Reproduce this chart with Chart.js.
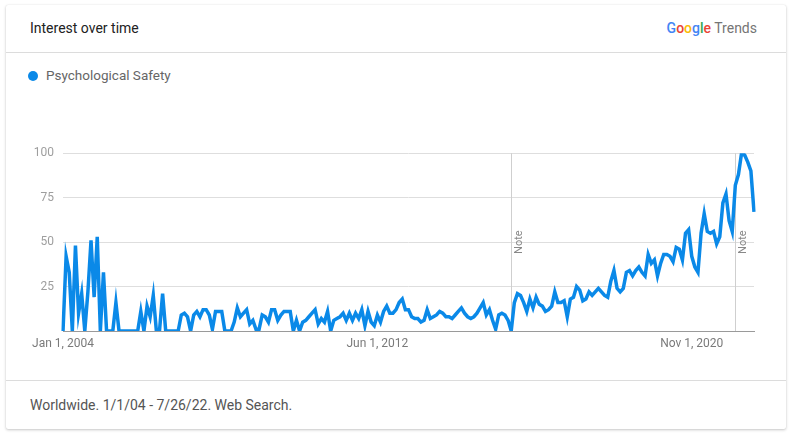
<!DOCTYPE html>
<html>
<head>
<meta charset="utf-8">
<script src="https://cdn.jsdelivr.net/npm/chart.js@4/dist/chart.umd.min.js"></script>
<style>
  html, body { margin: 0; padding: 0; background: #fff; }
  body { width: 793px; height: 437px; position: relative; font-family: Roboto, "Open Sans", sans-serif; }
  .card {
    position: absolute; left: 6px; top: 5px; width: 780px; height: 424px;
    background: #fff; border-radius: 2px;
    box-shadow: 0 1px 3px rgba(0,0,0,0.22), 0 0 1px rgba(0,0,0,0.12);
  }
  .title { position: absolute; left: 24px; top: 14px; font-size: 14px; color: #222; line-height: 18px; }
  .brand { position: absolute; right: 29px; top: 14px; font-size: 14px; line-height: 18px; color: #757575; }
  .brand b { font-weight: 500; }
  .hr1 { position: absolute; left: 0; right: 0; top: 47px; height: 1px; background: #dcdcdc; }
  .legend { position: absolute; left: 22px; top: 62px; font-size: 13.5px; color: #666; line-height: 16px; }
  .legend i { display: inline-block; width: 10px; height: 10px; border-radius: 50%; background: #0a89e8; margin-right: 8px; vertical-align: -1px; }
  .hr2 { position: absolute; left: 0; right: 0; top: 375px; height: 1px; background: #dcdcdc; }
  .foot { position: absolute; left: 24px; top: 391px; font-size: 14px; color: #555; line-height: 18px; }
  canvas { position: absolute; left: 6px; top: 137px; }
</style>
</head>
<body>
<div class="card">
  <div class="title">Interest over time</div>
  <div class="brand"><b><span style="color:#4285F4">G</span><span style="color:#EA4335">o</span><span style="color:#FBBC05">o</span><span style="color:#4285F4">g</span><span style="color:#34A853">l</span><span style="color:#EA4335">e</span></b> Trends</div>
  <div class="hr1"></div>
  <div class="legend"><i></i>Psychological Safety</div>
  <div class="hr2"></div>
  <div class="foot">Worldwide. 1/1/04 - 7/26/22. Web Search.</div>
</div>
<canvas id="trendChart" width="780" height="223"></canvas>
<script>
// Monthly interest, Jan 2004 .. Jul 2022 (223 points)
const seriesName = "Psychological Safety";
const interest = [
  0, 42, 33, 0, 48, 10, 21, 0, 22, 51, 19, 53, 0, 33, 0,
  0, 0, 16, 0, 0, 0, 0, 0, 0, 0, 11, 0, 14, 8, 20,
  0, 0, 21, 0, 0, 0, 0, 0, 9, 10, 8, 0, 9, 11, 8,
  12, 12, 9, 1, 11, 11, 11, 0, 0, 0, 5, 13, 8, 10, 12,
  4, 6, 1, 1, 9, 8, 5, 12, 12, 6, 9, 11, 11, 11, 0,
  6, 0, 5, 6, 8, 10, 12, 4, 7, 5, 11, 0, 6, 7, 8,
  10, 6, 10, 6, 10, 7, 12, 3, 11, 5, 3, 9, 5, 11, 14,
  10, 10, 12, 16, 18, 12, 12, 8, 7, 7, 5, 6, 12, 7, 8,
  9, 11, 10, 8, 8, 7, 9, 11, 13, 10, 8, 7, 8, 10, 13,
  16, 9, 12, 6, 1, 9, 10, 9, 6, 0, 16, 21, 20, 16, 11,
  18, 13, 19, 15, 14, 11, 12, 14, 22, 16, 16, 17, 8, 18, 19,
  25, 23, 17, 18,
  22, 20, 22, 24, 22, 20, 19, 28, 34, 24,
  22, 24, 33, 34, 31, 34, 36, 33, 31, 43,
  38, 40, 31, 38, 43, 43, 42, 39, 47, 46,
  40, 55, 57, 42, 36, 33, 55, 66, 56, 55,
  56, 49, 53, 72, 77, 62, 56, 82, 88, 100,
  99, 95, 90, 67
];
const shownTicks = ["Jan 1, 2004", "Jun 1, 2012", "Nov 1, 2020"];
const yTicks = [25, 50, 75, 100];
const notes = ["Jan 1, 2016", "Jan 1, 2022"];

const monthNames = ["Jan","Feb","Mar","Apr","May","Jun","Jul","Aug","Sep","Oct","Nov","Dec"];
const months = [];
for (let i = 0; i < interest.length; i++) {
    months.push(monthNames[i % 12] + " 1, " + (2004 + Math.floor(i / 12)));
}

// vertical "Note" markers
const notePlugin = {
    id: "notes",
    beforeDatasetsDraw(chart) {
        const { ctx, chartArea, scales } = chart;
        ctx.save();
        notes.forEach(label => {
            const x = Math.round(scales.x.getPixelForValue(months.indexOf(label))) + 0.5;
            ctx.strokeStyle = "#cfcfcf";
            ctx.lineWidth = 1;
            ctx.beginPath();
            ctx.moveTo(x, chartArea.top);
            ctx.lineTo(x, chartArea.bottom);
            ctx.stroke();
            ctx.translate(x + 8, scales.y.getPixelForValue(50));
            ctx.rotate(-Math.PI / 2);
            ctx.fillStyle = "#888";
            ctx.font = "11px Roboto";
            ctx.textAlign = "center";
            ctx.textBaseline = "middle";
            ctx.fillText("Note", 0, 0);
            ctx.setTransform(1, 0, 0, 1, 0, 0);
        });
        ctx.restore();
    }
};

new Chart(document.getElementById("trendChart"), {
    type: "line",
    data: {
        labels: months,
        datasets: [{
            label: seriesName,
            data: interest,
            borderColor: "#0a89e8",
            borderWidth: 3.5,
            pointRadius: 0,
            tension: 0,
            fill: false
        }]
    },
    options: {
        responsive: false,
        animation: false,
        layout: { padding: { top: 9, right: 32, left: 0, bottom: 0 } },
        plugins: { legend: { display: false }, tooltip: { enabled: false } },
        scales: {
            x: {
                grid: { display: false, drawTicks: false },
                border: { display: true, color: "#9a9a9a", width: 1 },
                afterFit: s => { s.height = 29; },
                ticks: {
                    autoSkip: false,
                    maxRotation: 0,
                    padding: 6,
                    color: "#7a7a7a",
                    font: { family: "Roboto", size: 12 },
                    callback: (v, i) => shownTicks.includes(months[i]) ? months[i] : ""
                }
            },
            y: {
                min: 0,
                max: 100,
                afterFit: s => { s.width = 57; },
                afterBuildTicks: s => { s.ticks = [0].concat(yTicks).map(v => ({ value: v })); },
                grid: { color: "#dedede", drawTicks: false },
                border: { display: false },
                ticks: {
                    padding: 9,
                    color: "#9e9e9e",
                    font: { family: "Roboto", size: 12 },
                    callback: v => v === 0 ? "" : v
                }
            }
        }
    },
    plugins: [notePlugin]
});
</script>
</body>
</html>
